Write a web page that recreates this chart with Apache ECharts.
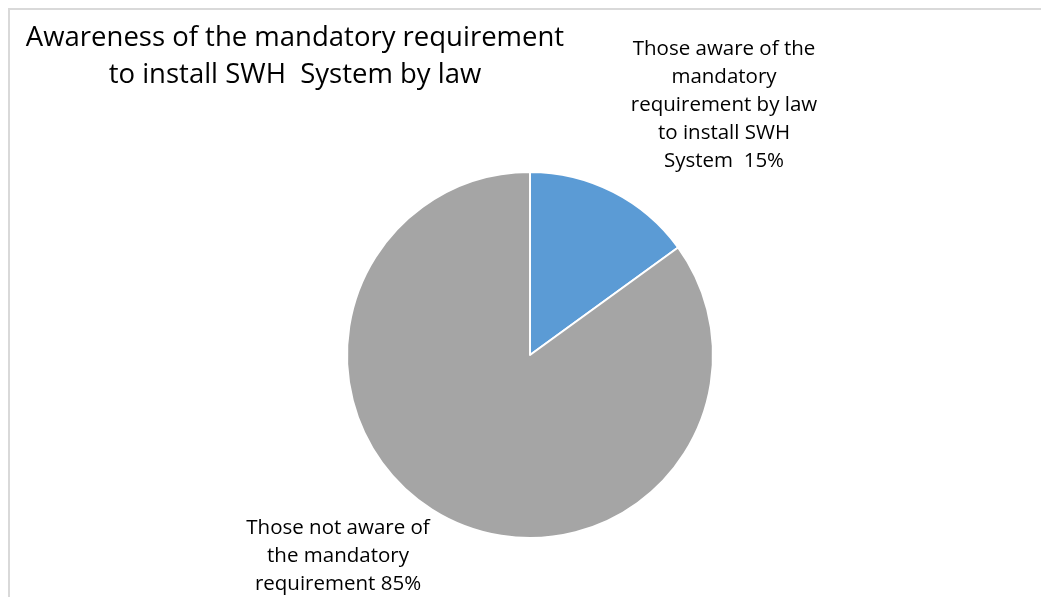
<!DOCTYPE html>
<html lang="en" style="height: 100%">
<head>
<meta charset="utf-8">
<title>Awareness of SWH requirement</title>
</head>
<body style="height: 100%; margin: 0; overflow: hidden; background: #fff">
<div style="position: absolute; left: 8px; top: 8px; width: 1100px; height: 700px; border: 2px solid #d9d9d9"></div>
<div id="container" style="position: absolute; left: 0; top: 0; width: 1041px; height: 597px"></div>

<script type="text/javascript" src="https://cdn.jsdelivr.net/npm/echarts/dist/echarts.min.js"></script>

<script type="text/javascript">

var dom = document.getElementById('container');
var myChart = echarts.init(dom);

var categories = [
    'Those aware of the\nmandatory\nrequirement by law\nto install SWH\nSystem  15%',
    'Those not aware of\nthe mandatory\nrequirement 85%'
];
var shares = [15, 85];
var colors = ['#5b9bd5', '#a5a5a5'];
var labelSpots = [[724, 105], [338, 556]];

var option = {
    animation: false,
    title: {
        text: 'Awareness of the mandatory requirement\nto install SWH  System by law',
        left: 290,
        top: 15,
        textAlign: 'center',
        textStyle: {
            fontFamily: 'Open Sans',
            fontSize: 27.5,
            fontWeight: 'normal',
            color: '#000',
            lineHeight: 37,
            align: 'center'
        }
    },
    series: [
        {
            type: 'pie',
            center: [530, 355],
            radius: 183,
            startAngle: 90,
            clockwise: true,
            itemStyle: {
                borderColor: '#fff',
                borderWidth: 2
            },
            label: {
                show: true,
                position: 'outside',
                fontFamily: 'Open Sans',
                fontSize: 20.5,
                lineHeight: 28,
                color: '#000',
                align: 'center',
                formatter: '{b}'
            },
            labelLine: { show: false },
            labelLayout: function (params) {
                var p = labelSpots[params.dataIndex];
                return { x: p[0], y: p[1], align: 'center', verticalAlign: 'middle' };
            },
            data: categories.map(function (name, i) {
                return { name: name, value: shares[i], itemStyle: { color: colors[i] } };
            })
        }
    ]
};

myChart.setOption(option);
window.addEventListener('resize', myChart.resize);
</script>
</body>
</html>
